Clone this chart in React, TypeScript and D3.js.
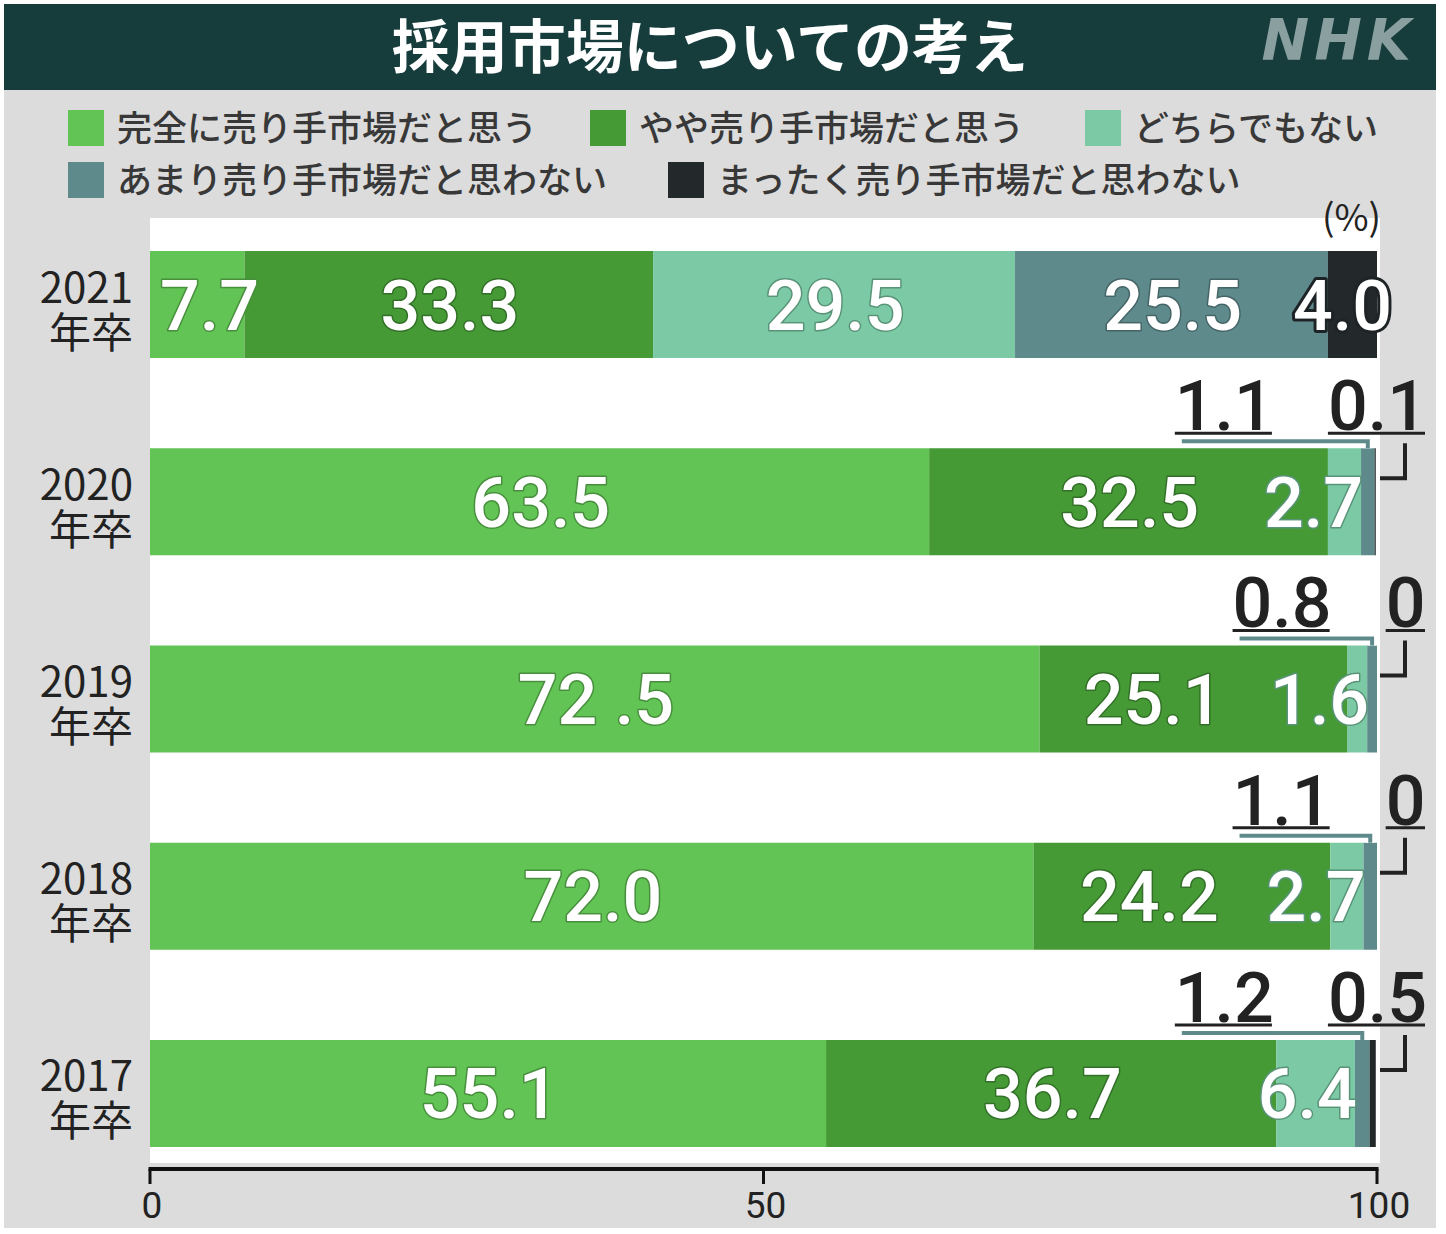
import React from "react";
import * as d3 from "d3";

const title = "採用市場についての考え";
const years = ["2021", "2020", "2019", "2018", "2017"];
const yearSuffix = "年卒";
const categories = [
  "完全に売り手市場だと思う",
  "やや売り手市場だと思う",
  "どちらでもない",
  "あまり売り手市場だと思わない",
  "まったく売り手市場だと思わない",
];
const colors = ["#62c454", "#459a36", "#7bcaa5", "#5e8a8c", "#23282b"];
const v2021 = [7.7, 33.3, 29.5, 25.5, 4.0];
const v2020 = [63.5, 32.5, 2.7, 1.1, 0.1];
const v2019 = [72.5, 25.1, 1.6, 0.8, 0];
const v2018 = [72.0, 24.2, 2.7, 1.1, 0];
const v2017 = [55.1, 36.7, 6.4, 1.2, 0.5];
const values = [v2021, v2020, v2019, v2018, v2017];
const xTicks = [0, 50, 100];
const unitLabel = "(%)";
// label as printed in the source (contains a stray space)
const printedOverride = { row: 2, index: 0, text: "72 .5" };

const W = 1446;
const H = 1234;
const BIG = 70;
const SMALL_GAP = 50;

function textWidth(s: string, fs: number) {
  let w = 0;
  for (const ch of s) w += ch === "." ? 0.263 : ch === " " ? 0.25 : 0.562;
  return w * fs;
}

export default function App() {
  const x = d3.scaleLinear().domain([0, 100]).range([150, 1377]);
  const y = d3
    .scaleBand<string>()
    .domain(years)
    .range([251, 1147])
    .paddingInner(0.4575)
    .paddingOuter(0);
  const bw = y.bandwidth();

  const legendRows = [
    [0, 1, 2],
    [3, 4],
  ];
  const legendX = [
    [68, 590, 1085],
    [68, 668],
  ];

  const rows = years.map((yr, r) => {
    const vals = values[r];
    const top = y(yr)!;
    const stack: { i: number; v: number; x0: number; x1: number }[] = [];
    let acc = 0;
    vals.forEach((v, i) => {
      stack.push({ i, v, x0: x(acc), x1: x(acc + v) });
      acc += v;
    });
    const fmt = (v: number, i: number) =>
      printedOverride.row === r && printedOverride.index === i
        ? printedOverride.text
        : v === 0
        ? "0"
        : v.toFixed(1);
    const isCallout = (v: number, i: number) => i >= 3 && v < 2;
    const inline = stack
      .filter((s) => !isCallout(s.v, s.i))
      .map((s) => {
        const text = fmt(s.v, s.i);
        const tw = textWidth(text, BIG);
        const segW = s.x1 - s.x0;
        let left: number;
        if (segW >= tw + 16) left = (s.x0 + s.x1) / 2 - tw / 2;
        else if (s.i === 0) left = s.x0 + 10;
        else left = s.x1 + (s.i === 4 ? 13 : 0) - tw;
        return { ...s, text, tw, left };
      });
    for (let k = inline.length - 2; k >= 0; k--) {
      const maxRight = inline[k + 1].left - SMALL_GAP;
      if (inline[k].left + inline[k].tw > maxRight && inline[k].i !== 0) {
        inline[k].left = maxRight - inline[k].tw;
      }
    }
    const callouts: any[] = [];
    const c4 = stack[4];
    const c3 = stack[3];
    let c4Left = x(100) + 48;
    if (isCallout(c4.v, 4)) {
      const text = fmt(c4.v, 4);
      const tw = textWidth(text, BIG);
      c4Left = x(100) + 48 - tw;
      callouts.push({ kind: 4, text, tw, left: c4Left, seg: c4 });
    }
    if (isCallout(c3.v, 3)) {
      const text = fmt(c3.v, 3);
      const tw = textWidth(text, BIG);
      const right = c4Left - SMALL_GAP - 6;
      callouts.push({ kind: 3, text, tw, left: right - tw, seg: c3 });
    }
    return { yr, r, top, stack, inline, callouts };
  });

  return (
    <svg
      width={W}
      height={H}
      viewBox={`0 0 ${W} ${H}`}
      style={{ position: "absolute", left: 0, top: 0, display: "block", background: "#fff" }}
    >
      <rect x={4} y={4} width={1432} height={1224} fill="#dcdcdc" />
      <rect x={4} y={4} width={1432} height={86} fill="#173c3c" />
      <text
        x={710}
        y={68}
        textAnchor="middle"
        fill="#fff"
        fontFamily="'Noto Sans CJK JP', sans-serif"
        fontWeight={700}
        fontSize={58}
      >
        {title}
      </text>
      <text
        x={1416}
        y={60}
        textAnchor="end"
        fill="#8aa0a0"
        fontFamily="'DejaVu Sans', sans-serif"
        fontWeight={700}
        fontStyle="italic"
        fontSize={57}
        letterSpacing={5}
      >
        NHK
      </text>

      {legendRows.map((row, ri) =>
        row.map((ci, k) => (
          <g key={`lg-${ci}`} transform={`translate(${legendX[ri][k]},${110 + ri * 52})`}>
            <rect x={0} y={0} width={36} height={36} fill={colors[ci]} />
            <text
              x={49}
              y={31}
              fill="#383838"
              fontFamily="'Noto Sans CJK JP', sans-serif"
              fontWeight={500}
              fontSize={35}
            >
              {categories[ci]}
            </text>
          </g>
        ))
      )}

      <rect x={150} y={218} width={1230} height={945} fill="#fff" />
      <text
        x={1381}
        y={231}
        textAnchor="end"
        fill="#222"
        fontFamily="'Noto Sans CJK JP', sans-serif"
        fontSize={37}
      >
        {unitLabel}
      </text>

      {rows.map((row) => (
        <g key={row.yr}>
          <text
            textAnchor="end"
            fill="#222"
            fontFamily="'Noto Sans CJK JP', sans-serif"
            fontSize={42}
          >
            <tspan x={133} y={row.top + bw / 2 - 2}>
              {row.yr}
            </tspan>
            <tspan x={133} y={row.top + bw / 2 + 43}>
              {yearSuffix}
            </tspan>
          </text>
          {row.stack.map((s) => (
            <rect
              key={s.i}
              x={s.x0}
              y={row.top}
              width={Math.max(0, s.x1 - s.x0)}
              height={bw}
              fill={colors[s.i]}
            />
          ))}
          {row.inline.map((l) => (
            <text
              key={`t${l.i}`}
              x={l.left}
              y={row.top + bw / 2 + 25}
              fill="#fff"
              stroke={l.i === 4 ? "#1e2326" : d3.color(colors[l.i])!.darker(0.9).formatHex()}
              strokeWidth={l.i === 4 ? 6 : 3}
              strokeLinejoin="round"
              paintOrder="stroke"
              fontFamily="Roboto, sans-serif"
              fontWeight={500}
              fontSize={BIG}
            >
              {l.text}
            </text>
          ))}
          {row.callouts.map((c) => {
            const base = row.top - 18;
            const segC = (c.seg.x0 + c.seg.x1) / 2;
            return (
              <g key={`c${c.kind}`}>
                <text
                  x={c.left}
                  y={base}
                  fill="#222"
                  fontFamily="Roboto, sans-serif"
                  fontWeight={500}
                  fontSize={BIG}
                >
                  {c.text}
                </text>
                <line
                  x1={c.left}
                  x2={c.left + c.tw}
                  y1={base + 3}
                  y2={base + 3}
                  stroke="#222"
                  strokeWidth={3}
                />
                {c.kind === 3 ? (
                  <g fill="none">
                    <path
                      d={`M${c.left + 7},${row.top - 7}H${segC}V${row.top}`}
                      stroke="#fff"
                      strokeWidth={9}
                    />
                    <path
                      d={`M${c.left + 7},${row.top - 7}H${segC}V${row.top}`}
                      stroke={colors[3]}
                      strokeWidth={4}
                    />
                  </g>
                ) : (
                  <path
                    d={`M${x(100) + 28},${row.top - 5}V${row.top + 30}H${x(100) + 3}`}
                    fill="none"
                    stroke="#222"
                    strokeWidth={4}
                  />
                )}
              </g>
            );
          })}
        </g>
      ))}

      <line x1={x(0) - 1.5} x2={x(100) + 1.5} y1={1169} y2={1169} stroke="#111" strokeWidth={4} />
      {xTicks.map((t) => (
        <g key={t}>
          <line x1={x(t)} x2={x(t)} y1={1169} y2={1184} stroke="#111" strokeWidth={3} />
          <text
            x={x(t) + 2}
            y={1218}
            textAnchor="middle"
            fill="#222"
            fontFamily="Roboto, sans-serif"
            fontSize={37}
          >
            {t}
          </text>
        </g>
      ))}
    </svg>
  );
}
